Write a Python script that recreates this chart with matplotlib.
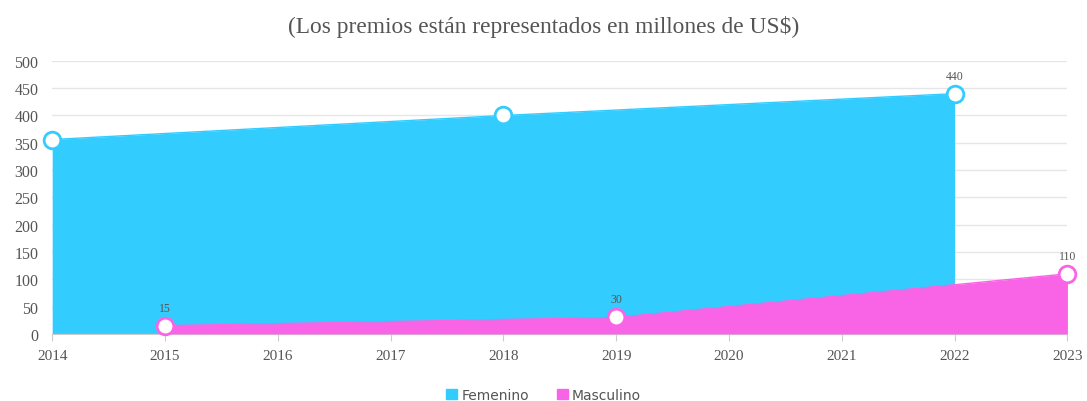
import matplotlib.pyplot as plt

# data
fem_years = [2014, 2018, 2022]
fem_vals = [356, 400, 440]
mas_years = [2015, 2019, 2023]
mas_vals = [15, 30, 110]
years = list(range(2014, 2024))
yticks = list(range(0, 501, 50))

fem_color = "#33CCFF"
mas_color = "#F964E6"

fig = plt.figure(figsize=(10.87, 4.02), dpi=100)
ax = fig.add_axes([0.048, 0.167, 0.934, 0.679])

ax.fill_between(fem_years, fem_vals, 0, color=fem_color, lw=0, zorder=2)
ax.plot(fem_years, fem_vals, color=fem_color, lw=1, zorder=3)
ax.fill_between(mas_years, mas_vals, 0, color=mas_color, lw=0, zorder=4)
ax.plot(mas_years, mas_vals, color=mas_color, lw=1, zorder=5)

ax.plot(fem_years, fem_vals, 'o', ms=12, mfc='white', mec=fem_color, mew=2, zorder=6, clip_on=False)
ax.plot(mas_years, mas_vals, 'o', ms=12, mfc='white', mec=mas_color, mew=2, zorder=6, clip_on=False)

# value labels (only those shown in the original)
ax.text(2022, 440 + 22, "440", ha='center', va='bottom', fontsize=8.5, color='#555555', family='Liberation Serif')
for x, v in zip(mas_years, mas_vals):
    ax.text(x, v + 22, str(v), ha='center', va='bottom', fontsize=8.5, color='#555555', family='Liberation Serif')

ax.set_xlim(2014, 2023)
ax.set_ylim(0, 500)
ax.set_xticks(years)
ax.set_yticks(yticks)
ax.tick_params(axis='y', length=0, labelsize=11.5, labelcolor='#555555', pad=10)
ax.tick_params(axis='x', length=5, color='#cccccc', labelsize=11, labelcolor='#555555', pad=6)
for lbl in ax.get_xticklabels() + ax.get_yticklabels():
    lbl.set_family('Liberation Serif')
ax.grid(axis='y', color='#e6e6e6', lw=1, zorder=0)
ax.set_axisbelow(True)
for s in ['top', 'right', 'left']:
    ax.spines[s].set_visible(False)
ax.spines['bottom'].set_color('#cccccc')

fig.suptitle("(Los premios están representados en millones de US$)", y=0.96,
             fontsize=16.8, color='#555555', family='Liberation Serif')

h1 = plt.Rectangle((0, 0), 1, 1, color=fem_color)
h2 = plt.Rectangle((0, 0), 1, 1, color=mas_color)
fig.legend([h1, h2], ["Femenino", "Masculino"], loc='center', bbox_to_anchor=(0.5, 0.015),
           ncol=2, frameon=False, fontsize=10, handlelength=0.8, handleheight=0.8,
           handletextpad=0.3, columnspacing=2.0, labelcolor='#555555')

fig.savefig("out.png", dpi=100)
